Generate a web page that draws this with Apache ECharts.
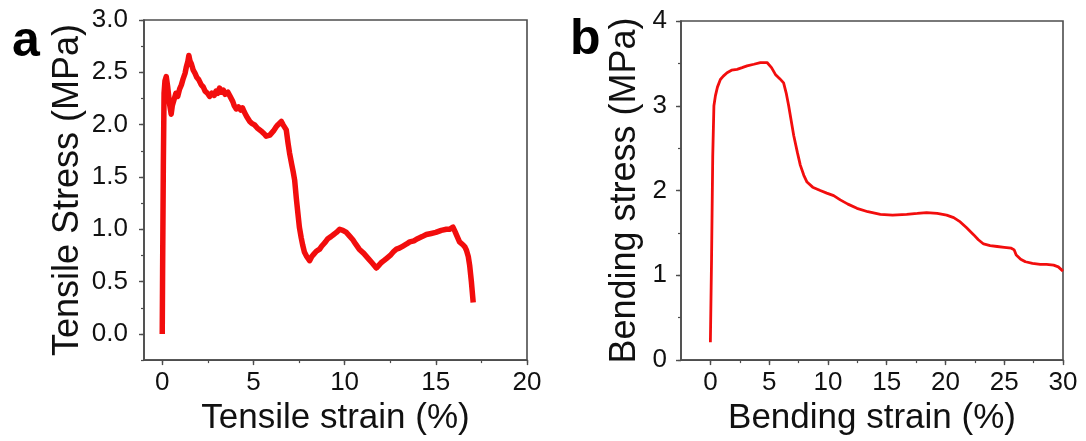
<!DOCTYPE html>
<html>
<head>
<meta charset="utf-8">
<script src="https://cdn.jsdelivr.net/npm/echarts@6/dist/echarts.min.js"></script>
<style>
html,body{margin:0;padding:0;background:#fff;}
#chart{width:1086px;height:441px;}
</style>
</head>
<body>
<div id="chart"></div>
<script>
// ---- Data ----
const tensileStrain = [
  0, 0.02, 0.06, 0.1, 0.15, 0.22, 0.3, 0.4, 0.49, 0.55,
  0.65, 0.75, 0.85, 0.95, 1.05, 1.15, 1.25, 1.32, 1.4, 1.46,
  1.52, 1.6, 1.7, 1.8, 1.9, 2.0, 2.14, 2.25, 2.35, 2.48,
  2.6, 2.72, 2.85, 2.95, 3.05, 3.14, 3.25, 3.35, 3.45, 3.6,
  3.72, 3.87, 3.95, 4.06, 4.18, 4.3, 4.4, 4.5, 4.62, 4.8,
  4.92, 5.05, 5.2, 5.34, 5.48, 5.6, 5.7, 5.8, 5.9, 6.0,
  6.1, 6.16, 6.25, 6.35, 6.45, 6.53, 6.62, 6.7, 6.8, 6.9,
  6.98, 7.1, 7.18, 7.26, 7.35, 7.44, 7.52, 7.62, 7.7, 7.8,
  7.92, 8.08, 8.2, 8.3, 8.45, 8.63, 8.75, 8.85, 8.95, 9.08,
  9.25, 9.4, 9.55, 9.73, 9.9, 10.1, 10.25, 10.45, 10.6, 10.8,
  11.05, 11.3, 11.5, 11.74, 11.85, 12.0, 12.15, 12.29, 12.5, 12.7,
  12.84, 13.0, 13.2, 13.4, 13.57, 13.8, 14.0, 14.25, 14.48, 14.75,
  15.0, 15.3, 15.58, 15.75, 15.94, 16.05, 16.15, 16.3, 16.4, 16.5,
  16.6, 16.68, 16.78, 16.86, 16.95, 17.0, 17.05
];
const tensileStress = [
  0, 0.6, 1.6, 2.3, 2.42, 2.46, 2.36, 2.2, 2.1, 2.18,
  2.24, 2.3, 2.27, 2.34, 2.38, 2.44, 2.49, 2.55, 2.6, 2.66,
  2.61, 2.58, 2.52, 2.49, 2.45, 2.43, 2.38, 2.36, 2.32, 2.3,
  2.27, 2.3, 2.28, 2.32, 2.3, 2.35, 2.31, 2.33, 2.29, 2.31,
  2.27, 2.22, 2.18, 2.15, 2.17, 2.14, 2.16, 2.12, 2.08, 2.03,
  2.01, 2.0, 1.97, 1.95, 1.93, 1.91, 1.89, 1.88, 1.9, 1.91,
  1.94, 1.95, 1.98, 2.0, 1.99, 2.03, 2.0, 2.0, 1.95, 1.82,
  1.73, 1.62, 1.55, 1.47, 1.3, 1.15, 1.02, 0.92, 0.85, 0.78,
  0.74, 0.7, 0.74, 0.76, 0.79, 0.81, 0.84, 0.86, 0.88, 0.91,
  0.93, 0.95, 0.97, 1.0, 0.99, 0.97, 0.94, 0.9, 0.86, 0.81,
  0.77, 0.72, 0.68, 0.63, 0.65, 0.68, 0.7, 0.72, 0.75, 0.79,
  0.81, 0.82, 0.84, 0.86, 0.88, 0.89, 0.91, 0.93, 0.95, 0.96,
  0.97, 0.99, 1.0, 1.0, 1.02, 0.98, 0.94, 0.88, 0.87, 0.85,
  0.83, 0.8, 0.74, 0.65, 0.5, 0.4, 0.3
];

const bendingStrain = [0, 0.1, 0.2, 0.3, 0.43, 0.6, 0.85, 1.1, 1.42, 1.8, 2.27, 2.7, 3.12, 3.7, 4.25, 4.82, 5.2, 5.53, 5.9, 6.23, 6.45, 6.66, 7.09, 7.4, 7.65, 7.95, 8.22, 8.7, 9.35, 9.9, 10.49, 11.05, 11.7, 12.47, 13.4, 14.46, 15.5, 16.7, 17.6, 18.4, 19.3, 20.1, 20.7, 21.26, 21.8, 22.39, 22.8, 23.24, 23.8, 24.4, 25.0, 25.6, 25.85, 26.02, 26.4, 26.8, 27.4, 28.06, 28.6, 29.2, 29.6, 30];
const bendingStress = [0.21, 1.2, 2.4, 3.0, 3.12, 3.22, 3.31, 3.35, 3.39, 3.42, 3.43, 3.45, 3.47, 3.49, 3.51, 3.51, 3.45, 3.37, 3.32, 3.27, 3.15, 3.0, 2.65, 2.45, 2.3, 2.18, 2.1, 2.04, 2.0, 1.97, 1.94, 1.89, 1.84, 1.79, 1.75, 1.72, 1.71, 1.72, 1.73, 1.74, 1.73, 1.71, 1.68, 1.63, 1.56, 1.48, 1.42, 1.37, 1.35, 1.34, 1.33, 1.32, 1.3, 1.24, 1.19, 1.16, 1.14, 1.13, 1.13, 1.12, 1.1, 1.05];

// tick labels / tick positions
const tensileXTicks = [0, 5, 10, 15, 20];
const tensileXMinor = [0, 2.5, 5, 7.5, 10, 12.5, 15, 17.5, 20];
const tensileYTicks = [0, 0.5, 1.0, 1.5, 2.0, 2.5, 3.0];
const tensileYMinor = [-0.25, 0, 0.25, 0.5, 0.75, 1.0, 1.25, 1.5, 1.75, 2.0, 2.25, 2.5, 2.75, 3.0];
const bendingXTicks = [0, 5, 10, 15, 20, 25, 30];
const bendingXMinor = [0, 2.5, 5, 7.5, 10, 12.5, 15, 17.5, 20, 22.5, 25, 27.5, 30];
const bendingYTicks = [0, 1, 2, 3, 4];
const bendingYMinor = [0, 0.5, 1, 1.5, 2, 2.5, 3, 3.5, 4];

const FONT = '"Liberation Sans", Arial, Helvetica, sans-serif';
const AXIS_COLOR = '#4d4d4d';
const RED = '#f20d0d';

function zip(a, b) { return a.map((v, i) => [v, b[i]]); }

function mainAxis(gridIndex, min, max, ticks, labelFmt, name, nameGap, labelMargin, isY, nameSize) {
  return {
    type: 'value', gridIndex, min, max,
    position: isY ? 'left' : 'bottom',
    name, nameLocation: 'middle', nameGap,
    nameTextStyle: { fontFamily: FONT, fontSize: nameSize, color: '#111' },
    axisLine: { show: true, onZero: false, lineStyle: { color: AXIS_COLOR, width: 1.6 } },
    axisTick: { show: true, inside: false, length: 5, customValues: ticks, lineStyle: { color: AXIS_COLOR, width: 1.4 } },
    axisLabel: { show: true, customValues: ticks, formatter: labelFmt, margin: labelMargin,
      fontFamily: FONT, fontSize: 26, color: '#111' },
    splitLine: { show: false }
  };
}
function minorAxis(gridIndex, min, max, ticks, isY) {
  return {
    type: 'value', gridIndex, min, max,
    position: isY ? 'left' : 'bottom',
    axisLine: { show: false, onZero: false },
    axisTick: { show: true, inside: false, length: 3, customValues: ticks, lineStyle: { color: AXIS_COLOR, width: 1.2 } },
    axisLabel: { show: false },
    splitLine: { show: false }
  };
}

const chart = echarts.init(document.getElementById('chart'), null, { renderer: 'canvas' });
chart.setOption({
  animation: false,
  backgroundColor: '#fff',
  grid: [
    { left: 144, top: 20, width: 383, height: 343, show: true, borderColor: AXIS_COLOR, borderWidth: 1.6, backgroundColor: 'transparent' },
    { left: 681, top: 21, width: 382, height: 342, show: true, borderColor: AXIS_COLOR, borderWidth: 1.6, backgroundColor: 'transparent' }
  ],
  xAxis: [
    mainAxis(0, -1, 20, tensileXTicks, v => String(v), 'Tensile strain (%)', 40, 10, false, 35),
    mainAxis(1, -2.5, 30, bendingXTicks, v => String(v), 'Bending strain (%)', 40, 10, false, 35),
    minorAxis(0, -1, 20, tensileXMinor, false),
    minorAxis(1, -2.5, 30, bendingXMinor, false)
  ],
  yAxis: [
    mainAxis(0, -0.25, 3, tensileYTicks, v => v.toFixed(1), 'Tensile Stress (MPa)', 58, 16, true, 36),
    mainAxis(1, 0, 4, bendingYTicks, v => String(v), 'Bending stress (MPa)', 38, 14, true, 36),
    minorAxis(0, -0.25, 3, tensileYMinor, true),
    minorAxis(1, 0, 4, bendingYMinor, true)
  ],
  graphic: [
    { type: 'text', left: 12, top: 17, style: { text: 'a', fontFamily: FONT, fontWeight: 'bold', fontSize: 50, fill: '#000' } },
    { type: 'text', left: 570, top: 15, style: { text: 'b', fontFamily: FONT, fontWeight: 'bold', fontSize: 50, fill: '#000' } }
  ],
  series: [
    { type: 'line', xAxisIndex: 0, yAxisIndex: 0, data: zip(tensileStrain, tensileStress), showSymbol: false, symbol: 'none',
      lineStyle: { color: RED, width: 5.5, join: 'round' }, clip: true },
    { type: 'line', xAxisIndex: 1, yAxisIndex: 1, data: zip(bendingStrain, bendingStress), showSymbol: false, symbol: 'none',
      lineStyle: { color: RED, width: 2.8 }, clip: true }
  ]
});
</script>
</body>
</html>
